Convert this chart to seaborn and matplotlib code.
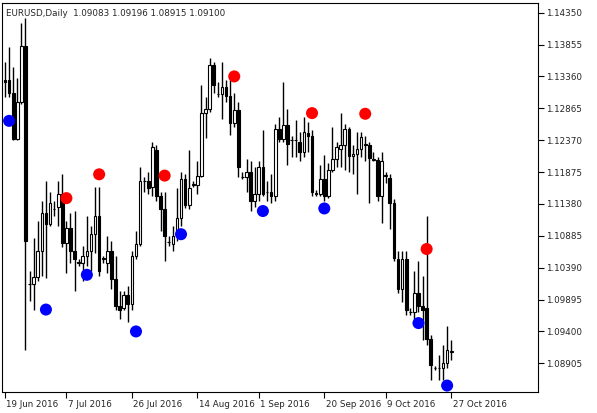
import numpy as np
import pandas as pd
import seaborn as sns
import matplotlib
matplotlib.use("Agg")
import matplotlib.pyplot as plt
from matplotlib.transforms import ScaledTranslation

# daily EURUSD bars: open, close, high, low
opens = [1.1330, 1.1330, 1.1311, 1.1239, 1.1296, 1.1384, 1.1013, 1.1013, 1.1025, 1.1065,
         1.1124, 1.1107, 1.1130, 1.1134, 1.1154, 1.1077, 1.1100, 1.1065, 1.1047, 1.1047,
         1.1057, 1.1065, 1.1091, 1.1119, 1.1053, 1.1047, 1.1065, 1.1022, 1.0979, 1.0976,
         1.0996, 1.0983, 1.1057, 1.1076, 1.1173, 1.1173, 1.1164, 1.1222, 1.1150, 1.1130,
         1.1079, 1.1076, 1.1088, 1.1116, 1.1177, 1.1137, 1.1168, 1.1168, 1.1182, 1.1279,
         1.1285, 1.1353, 1.1308, 1.1308, 1.1319, 1.1305, 1.1264, 1.1284, 1.1180, 1.1180,
         1.1188, 1.1142, 1.1154, 1.1196, 1.1157, 1.1157, 1.1150, 1.1254, 1.1239, 1.1261,
         1.1237, 1.1237, 1.1234, 1.1219, 1.1248, 1.1244, 1.1154, 1.1153, 1.1176, 1.1150,
         1.1190, 1.1208, 1.1224, 1.1230, 1.1254, 1.1213, 1.1216, 1.1224, 1.1230, 1.1230,
         1.1207, 1.1207, 1.1151, 1.1182, 1.1179, 1.1139, 1.1053, 1.1006, 1.1053, 1.0970,
         1.0970, 1.1000, 1.0980, 1.0976, 1.0929, 1.0883, 1.0883, 1.0883, 1.0891, 1.0908]
closes = [1.1327, 1.1311, 1.1239, 1.1296, 1.1384, 1.1080, 1.1013, 1.1025, 1.1065, 1.1124,
          1.1107, 1.1139, 1.1130, 1.1154, 1.1077, 1.1100, 1.1065, 1.1053, 1.1047, 1.1057,
          1.1065, 1.1091, 1.1119, 1.1034, 1.1053, 1.1065, 1.1022, 1.0979, 1.0973, 1.0996,
          1.0983, 1.1057, 1.1076, 1.1173, 1.1173, 1.1162, 1.1227, 1.1150, 1.1130, 1.1088,
          1.1079, 1.1088, 1.1116, 1.1177, 1.1137, 1.1162, 1.1168, 1.1182, 1.1279, 1.1285,
          1.1353, 1.1322, 1.1308, 1.1319, 1.1305, 1.1264, 1.1284, 1.1196, 1.1180, 1.1188,
          1.1142, 1.1154, 1.1196, 1.1154, 1.1157, 1.1150, 1.1254, 1.1239, 1.1261, 1.1231,
          1.1237, 1.1237, 1.1219, 1.1250, 1.1244, 1.1157, 1.1154, 1.1176, 1.1150, 1.1190,
          1.1208, 1.1227, 1.1230, 1.1254, 1.1213, 1.1216, 1.1224, 1.1242, 1.1230, 1.1210,
          1.1207, 1.1151, 1.1204, 1.1182, 1.1139, 1.1054, 1.1006, 1.1053, 1.0973, 1.0970,
          1.1000, 1.0980, 1.0973, 1.0929, 1.0888, 1.0883, 1.0883, 1.0891, 1.0911, 1.0910]
highs = [1.1358, 1.1381, 1.1350, 1.1334, 1.1419, 1.1427, 1.1034, 1.1085, 1.1111, 1.1142,
         1.1173, 1.1157, 1.1142, 1.1173, 1.1185, 1.1111, 1.1124, 1.1127, 1.1053, 1.1073,
         1.1119, 1.1103, 1.1165, 1.1165, 1.1057, 1.1088, 1.1080, 1.1057, 1.1003, 1.1003,
         1.1011, 1.1065, 1.1096, 1.1196, 1.1180, 1.1188, 1.1234, 1.1230, 1.1157, 1.1157,
         1.1088, 1.1103, 1.1162, 1.1188, 1.1185, 1.1222, 1.1173, 1.1204, 1.1322, 1.1304,
         1.1365, 1.1358, 1.1327, 1.1358, 1.1331, 1.1330, 1.1311, 1.1296, 1.1188, 1.1208,
         1.1204, 1.1196, 1.1204, 1.1253, 1.1173, 1.1184, 1.1262, 1.1273, 1.1327, 1.1285,
         1.1244, 1.1268, 1.1250, 1.1273, 1.1265, 1.1253, 1.1160, 1.1199, 1.1214, 1.1201,
         1.1257, 1.1234, 1.1279, 1.1262, 1.1257, 1.1230, 1.1250, 1.1250, 1.1244, 1.1234,
         1.1219, 1.1211, 1.1219, 1.1188, 1.1185, 1.1145, 1.1065, 1.1065, 1.1065, 1.0976,
         1.1034, 1.1050, 1.1026, 1.1119, 1.0934, 1.0886, 1.0903, 1.0919, 1.0949, 1.0926]
lows = [1.1304, 1.1304, 1.1237, 1.1237, 1.1293, 1.0911, 1.0988, 1.0973, 1.1019, 1.1026,
        1.1023, 1.1103, 1.1119, 1.1103, 1.1071, 1.1031, 1.1047, 1.1003, 1.1042, 1.1019,
        1.1042, 1.1034, 1.1062, 1.1026, 1.1047, 1.1031, 1.1006, 1.0973, 1.0960, 1.0973,
        1.0954, 1.0973, 1.1053, 1.1073, 1.1157, 1.1154, 1.1150, 1.1142, 1.1096, 1.1050,
        1.1073, 1.1065, 1.1080, 1.1103, 1.1131, 1.1130, 1.1165, 1.1153, 1.1180, 1.1241,
        1.1281, 1.1311, 1.1304, 1.1270, 1.1296, 1.1245, 1.1257, 1.1180, 1.1176, 1.1157,
        1.1127, 1.1134, 1.1142, 1.1150, 1.1142, 1.1139, 1.1142, 1.1234, 1.1234, 1.1199,
        1.1211, 1.1211, 1.1204, 1.1211, 1.1219, 1.1150, 1.1150, 1.1150, 1.1142, 1.1147,
        1.1188, 1.1196, 1.1196, 1.1191, 1.1188, 1.1184, 1.1153, 1.1211, 1.1204, 1.1139,
        1.1204, 1.1142, 1.1108, 1.1170, 1.1099, 1.1050, 1.1000, 1.0985, 1.0965, 1.0966,
        1.0960, 1.0970, 1.0926, 1.0919, 1.0865, 1.0880, 1.0865, 1.0865, 1.0883, 1.0896]

# fractal markers: bar index and price
red_idx = [15, 23, 39, 56, 75, 88, 103]
red_price = [1.1147, 1.1184, 1.1182, 1.1336, 1.1279, 1.1278, 1.1068]
blue_idx = [1, 10, 20, 32, 43, 63, 78, 101, 108]
blue_price = [1.1267, 1.0974, 1.1028, 1.0940, 1.1091, 1.1127, 1.1131, 1.0953, 1.0856]

price_ticks = [1.14350, 1.13855, 1.13360, 1.12865, 1.12370, 1.11875, 1.11380,
               1.10885, 1.10390, 1.09895, 1.09400, 1.08905]
date_idx = [0, 15, 31, 47, 62, 78, 93, 109]
date_labels = ["19 Jun 2016", "7 Jul 2016", "26 Jul 2016", "14 Aug 2016",
               "1 Sep 2016", "20 Sep 2016", "9 Oct 2016", "27 Oct 2016"]

sns.set_style("white")
plt.rcParams['font.family'] = ['DejaVu Sans']

fig = plt.figure(figsize=(5.97, 4.13), dpi=100)
ax = fig.add_axes([2 / 597, 21 / 413, 536 / 597, 389 / 413])

df = pd.DataFrame({"o": opens, "c": closes, "h": highs, "l": lows})
df["i"] = np.arange(len(df))
up = df["c"] >= df["o"]

ax.vlines(df["i"], df["l"], df["h"], color="black", lw=1, zorder=1)
body_lo = np.minimum(df["o"], df["c"])
body_h = np.maximum((df["c"] - df["o"]).abs(), 0.00003)
ax.bar(df["i"][up], body_h[up], bottom=body_lo[up], width=0.65,
       color="white", edgecolor="black", lw=0.8, zorder=2)
ax.bar(df["i"][~up], body_h[~up], bottom=body_lo[~up], width=0.65,
       color="black", edgecolor="black", lw=0.8, zorder=2)

sns.scatterplot(x=red_idx, y=red_price, color="#ff0000", s=75, edgecolor="none", ax=ax, zorder=3)
sns.scatterplot(x=blue_idx, y=blue_price, color="#0000ff", s=75, edgecolor="none", ax=ax, zorder=3)

ax.set_xlim(-0.73, 130.2)
ax.set_ylim(1.0846, 1.1450)
ax.yaxis.tick_right()
ax.set_yticks(price_ticks)
ax.set_yticklabels([f"{p:.5f}" for p in price_ticks], fontsize=6.3)
ax.set_xticks(date_idx)
ax.set_xticklabels(date_labels, fontsize=6.3, ha="left")
ax.tick_params(axis="both", direction="out", length=4, width=0.8, color="black",
               pad=2, bottom=True, right=True)
shift = ScaledTranslation(1.5 / 100, 0, fig.dpi_scale_trans)
for lbl in ax.get_xticklabels():
    lbl.set_transform(lbl.get_transform() + shift)
for s in ax.spines.values():
    s.set_color("black")
    s.set_linewidth(0.8)

ax.text(0.008, 0.985, "EURUSD,Daily  1.09083 1.09196 1.08915 1.09100",
        transform=ax.transAxes, fontsize=6.3, va="top", ha="left")

fig.savefig("out.png", dpi=100)
